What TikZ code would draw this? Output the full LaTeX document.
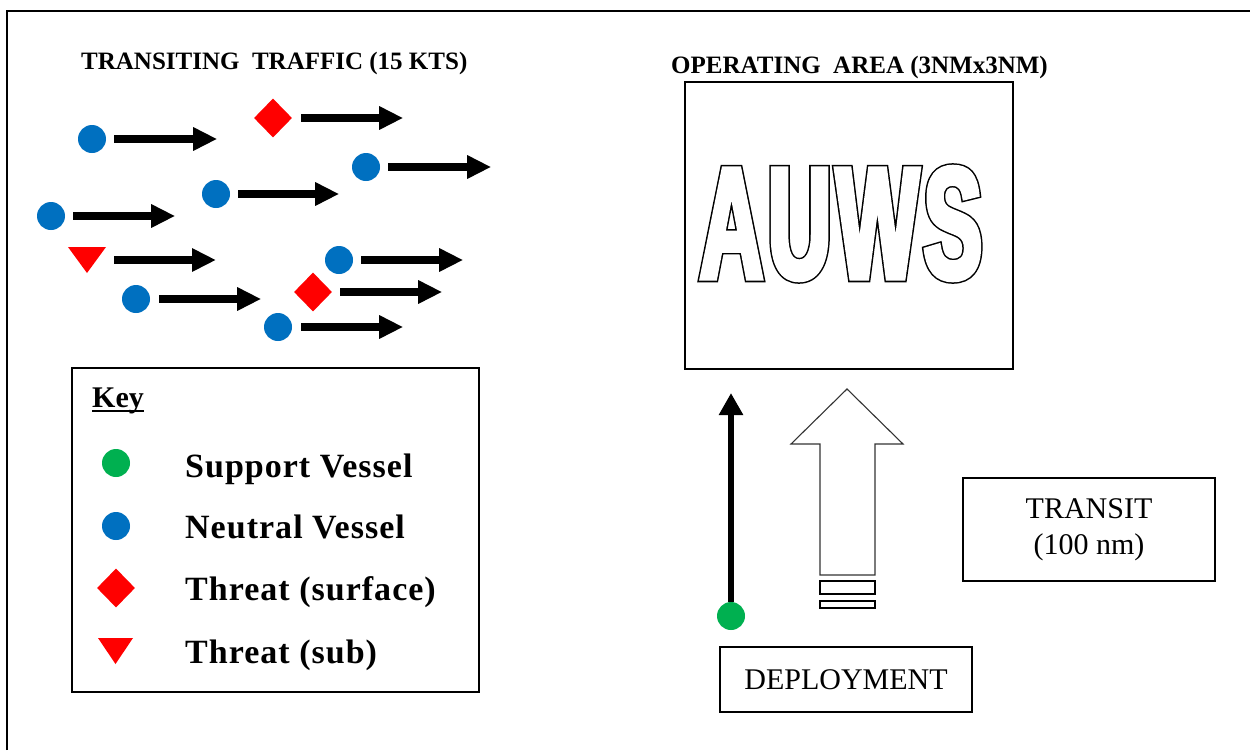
\documentclass[tikz,border=0pt]{standalone}
\usepackage{fontspec}
\setmainfont{Liberation Serif}
\newfontfamily\auwsfont{Liberation Sans}[FakeStretch=0.55]
\newfontfamily\keyfont{Liberation Serif}[LetterSpace=3]
\usepackage{graphicx}
\usetikzlibrary{arrows.meta,shapes.geometric}
\definecolor{tblue}{HTML}{0070C0}
\definecolor{tred}{HTML}{FF0000}
\definecolor{tgreen}{HTML}{00B050}
\newcommand\auwsword{A\kern5pt U\kern5pt W\kern5pt S}
\begin{document}
\begin{tikzpicture}[x=1pt,y=-1pt,
  neutral/.style={circle,fill=tblue,minimum size=28pt,inner sep=0pt},
  support/.style={circle,fill=tgreen,minimum size=28pt,inner sep=0pt},
  surface/.style={diamond,fill=tred,minimum width=38pt,minimum height=39pt,inner sep=0pt},
  tarrow/.style={line width=8pt,-{Triangle[length=24pt,width=22pt]}},
  box/.style={draw,line width=1.3pt,inner sep=0pt},
  titletext/.style={font=\fontsize{25}{30}\selectfont\bfseries,inner sep=0pt,anchor=base west},
  keytext/.style={font=\keyfont\fontsize{34}{40}\selectfont\bfseries,inner sep=0pt,anchor=base west},
  plaintext/.style={font=\fontsize{30}{36}\selectfont,inner sep=0pt}
]
\useasboundingbox (0,0) rectangle (1250,750);
\fill[white] (0,0) rectangle (1250,750);
\draw[line width=1.5pt] (7,750) -- (7,11) -- (1250,11);

% titles
\node[titletext] (ttl1) at (81,69) {TRANSITING\ \ TRAFFIC (15 KTS)};
\node[titletext] (ttl2) at (671,73) {OPERATING\ \ AREA (3NMx3NM)};

% transiting traffic
\node[neutral] (n1) at (92,139) {};
\node[surface] (s1) at (273,118) {};
\node[neutral] (n2) at (366,167) {};
\node[neutral] (n3) at (216,194) {};
\node[neutral] (n4) at (51,216) {};
\fill[tred] (68,247) -- (106,247) -- (87,273) -- cycle;
\coordinate (u1) at (106,260);
\node[neutral] (n5) at (339,260) {};
\node[neutral] (n6) at (136,299) {};
\node[surface] (s2) at (313,292) {};
\node[neutral] (n7) at (278,327) {};

\draw[tarrow] ([xshift=8pt]n1.east) -- ++(103,0);
\draw[tarrow] ([xshift=9pt]s1.east) -- ++(102,0);
\draw[tarrow] ([xshift=8pt]n2.east) -- ++(103,0);
\draw[tarrow] ([xshift=8pt]n3.east) -- ++(101,0);
\draw[tarrow] ([xshift=8pt]n4.east) -- ++(102,0);
\draw[tarrow] ([xshift=8pt]u1) -- ++(102,0);
\draw[tarrow] ([xshift=8pt]n5.east) -- ++(102,0);
\draw[tarrow] ([xshift=9pt]n6.east) -- ++(102,0);
\draw[tarrow] ([xshift=8pt]s2.east) -- ++(102,0);
\draw[tarrow] ([xshift=9pt]n7.east) -- ++(102,0);

% key
\node[box,minimum width=407pt,minimum height=324pt] (key) at (275.5,530) {};
\node[font=\fontsize{30}{36}\selectfont\bfseries,inner sep=0pt,anchor=base west] (keyt) at (92,407) {Key};
\draw[line width=2.5pt] ([yshift=-4pt]keyt.base west) -- ([yshift=-4pt]keyt.base east);
\node[support] (k1) at (116,463) {};
\node[keytext] (k1t) at (185,477) {Support Vessel};
\node[neutral] (k2) at (116,526) {};
\node[keytext] (k2t) at (185,538) {Neutral Vessel};
\node[surface] (k3) at (116,588) {};
\node[keytext] (k3t) at (185,600) {Threat (surface)};
\fill[tred] (98,638) -- (133,638) -- (115.5,664) -- cycle;
\coordinate (k4) at (115.5,650);
\node[keytext] (k4t) at (185,663) {Threat (sub)};

% operating area
\node[box,line width=1.2pt,minimum width=328pt,minimum height=287pt] (oparea) at (849,225.5) {};
\node[inner sep=0pt] (auws) at (841,223.5) {\auwsfont\bfseries\fontsize{159}{159}\selectfont
  \rlap{\special{pdf:literal direct 1 Tr 8 w 4 M}\auwsword}%
  \rlap{\color{white}\special{pdf:literal direct 2 Tr 5 w 4 M}\auwsword}%
  \special{pdf:literal direct 0 Tr}\phantom{\auwsword}};

% deployment
\node[support] (g) at (731,616) {};
\coordinate (gtip) at (731,393);
\draw[line width=6pt,-{Triangle[length=22pt,width=23pt]}] (g.north) -- (gtip);

\draw[line width=1.1pt,draw=black!80,line join=miter] (820,575) -- (820,444) -- (791,444) -- (847,389) -- (903,444) -- (875,444) -- (875,575) -- cycle;
\draw[line width=1.2pt] (820,581) rectangle (875,594);
\draw[line width=1.2pt] (820,601) rectangle (875,608);

\node[box,minimum width=252pt,minimum height=103pt,align=center,plaintext] (transit) at (1089,529.5) {TRANSIT\\(100 nm)};
\node[box,minimum width=252pt,minimum height=65pt,plaintext] (deploy) at (846,679.5) {DEPLOYMENT};
\end{tikzpicture}
\end{document}
